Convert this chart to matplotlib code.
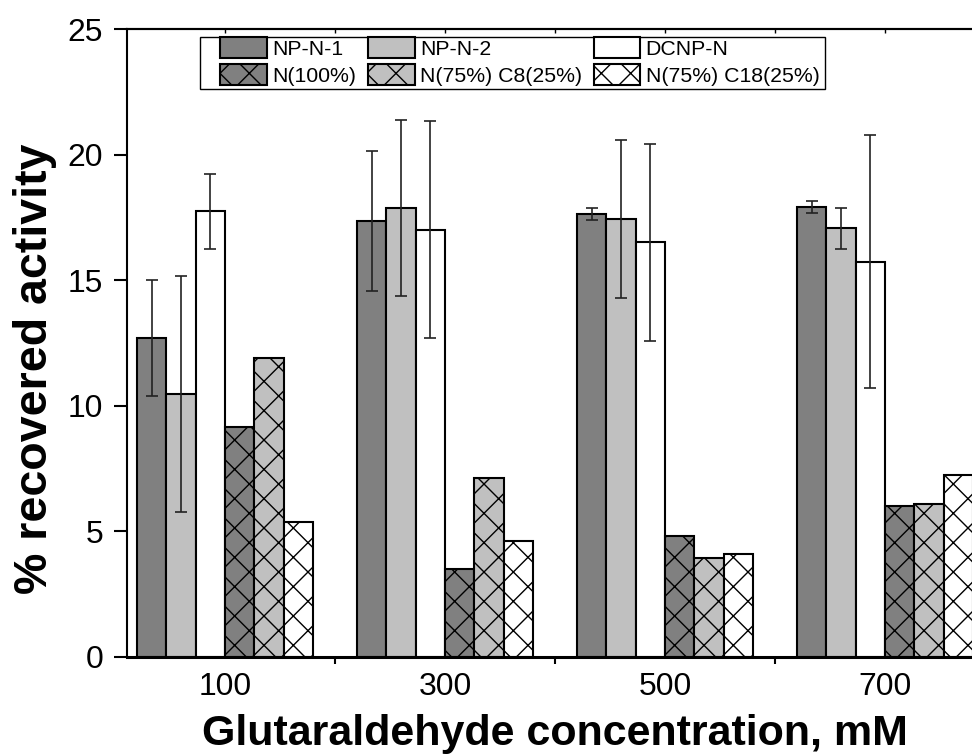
import numpy as np
import matplotlib
matplotlib.use("Agg")
import matplotlib.pyplot as plt
from matplotlib.patches import Rectangle

plt.rcParams['font.family'] = ['Liberation Sans', 'DejaVu Sans']

# render at 88 dpi so the 'x' hatch comes out fine enough; S converts point sizes
DPI = 88
S = 100 / DPI
plt.rcParams['hatch.linewidth'] = 1.0 * S

# glutaraldehyde concentration (mM)
conc = ["100", "300", "500", "700"]

# % recovered activity
np_n_1 = [12.69, 17.36, 17.63, 17.92]
np_n_1_err = [2.31, 2.80, 0.23, 0.23]
np_n_2 = [10.47, 17.88, 17.42, 17.06]
np_n_2_err = [4.70, 3.50, 3.15, 0.80]
dcnp_n = [17.74, 17.02, 16.51, 15.73]
dcnp_n_err = [1.49, 4.33, 3.93, 5.04]
n100 = [9.15, 3.50, 4.82, 6.01]
n75_c8 = [11.89, 7.11, 3.92, 6.09]
n75_c18 = [5.36, 4.61, 4.07, 7.25]

series = [
    ("NP-N-1", np_n_1, np_n_1_err, "#808080", None),
    ("NP-N-2", np_n_2, np_n_2_err, "#c0c0c0", None),
    ("DCNP-N", dcnp_n, dcnp_n_err, "white", None),
    ("N(100%)", n100, None, "#808080", "x"),
    ("N(75%) C8(25%)", n75_c8, None, "#c0c0c0", "x"),
    ("N(75%) C18(25%)", n75_c18, None, "white", "x"),
]

W, H = 972, 756
fig = plt.figure(figsize=(W / DPI, H / DPI), dpi=DPI)
ax = fig.add_axes([126.7 / W, 1 - 656.5 / H, 857.3 / W, 627.2 / H])

x = np.arange(len(conc))
w = 0.8 / len(series)
bars = []
for k, (name, vals, err, col, hatch) in enumerate(series):
    b = ax.bar(x + (k - 2.5) * w, vals, w, color=col, edgecolor="black",
               linewidth=1.5 * S, hatch=hatch, label=name, zorder=2)
    bars.append(b)
    if err is not None:
        ax.errorbar(x + (k - 2.5) * w, vals, yerr=err, fmt="none",
                    ecolor="#222222", elinewidth=1.2 * S, capsize=4.5 * S,
                    capthick=1.2 * S, zorder=3)

ax.set_xlim(-0.447, 3.45)
ax.set_ylim(0, 25)
ax.set_yticks([0, 5, 10, 15, 20, 25])
ax.set_xticks(x)
ax.set_xticklabels(conc)
ax.set_xticks(x[:-1] + 0.5, minor=True)

ax.tick_params(axis="y", direction="out", length=9 * S, width=1.5 * S,
               labelsize=23 * S, pad=8 * S)
ax.tick_params(axis="x", which="major", length=0, labelsize=23 * S, pad=11 * S)
ax.tick_params(axis="x", which="minor", direction="out", length=5 * S,
               width=1.5 * S)

for s in ["left", "top"]:
    ax.spines[s].set_linewidth(1.5 * S)
ax.spines["bottom"].set_linewidth(2.2 * S)
ax.spines["right"].set_visible(False)

# small inward marks along the top edge
top = ax.secondary_xaxis("top")
top.set_xticks(np.concatenate([x, x[:-1] + 0.5]))
top.set_xticklabels([])
top.tick_params(direction="in", length=3 * S, width=1 * S)
top.spines["top"].set_linewidth(1.5 * S)

ax.set_xlabel("Glutaraldehyde concentration, mM", fontsize=31 * S,
              fontweight="bold", labelpad=9 * S)
ax.set_ylabel("% recovered activity", fontsize=33.5 * S, fontweight="bold",
              va="center")
ax.yaxis.set_label_coords((35 - 126.7) / 857.3, 0.458)

# legend box drawn separately; entries filled column-wise
fig.patches.append(Rectangle((200 / W, 1 - 89 / H), 625 / W, 52.3 / H,
                             transform=fig.transFigure, fill=False,
                             edgecolor="black", linewidth=1.0 * S, zorder=5))
order = [0, 3, 1, 4, 2, 5]
leg = fig.legend([bars[i] for i in order], [series[i][0] for i in order],
                 ncol=3, loc="upper left", bbox_to_anchor=(220 / W, 1 - 37.5 / H),
                 bbox_transform=fig.transFigure, fontsize=15.3 * S,
                 frameon=False, borderaxespad=0, borderpad=0,
                 handlelength=2.2, handleheight=1.1, handletextpad=0.25,
                 columnspacing=0.55, labelspacing=0.25)

fig.savefig("out.png", dpi=DPI)
